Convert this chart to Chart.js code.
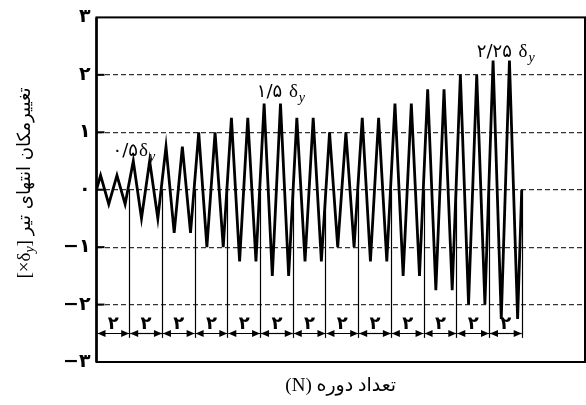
<!DOCTYPE html>
<html>
<head>
<meta charset="utf-8">
<script src="https://cdn.jsdelivr.net/npm/chart.js@4.4.1/dist/chart.umd.min.js"></script>
<style>
html,body{margin:0;padding:0;background:#fff;}
#wrap{width:586px;height:405px;position:relative;}
</style>
</head>
<body>
<div id="wrap"><canvas id="c" width="586" height="405"></canvas></div>
<script>
// ---- data ----
const cyclePeaks   = [0.25,0.25,0.5,0.5,0.75,0.75,1,1,1.25,1.25,1.5,1.5,1.25,1.25,1,1,1.25,1.25,1.5,1.5,1.75,1.75,2,2,2.25,2.25];
const cycleTroughs = [-0.25,-0.25,-0.5,-0.5,-0.75,-0.75,-1,-1,-1.25,-1.25,-1.5,-1.5,-1.25,-1.25,-1,-1,-1.25,-1.25,-1.5,-1.5,-1.75,-1.75,-2,-2,-2.25,-2.25];
const groupCycleCounts = [2,2,2,2,2,2,2,2,2,2,2,2,2];
const groupCountLabels = ['۲','۲','۲','۲','۲','۲','۲','۲','۲','۲','۲','۲','۲'];
const yTickValues = [-3,-2,-1,0,1,2,3];
const yTickLabels = ['−۳','−۲','−۱','۰','۱','۲','۳'];
const amplitudeNotes = ['۰/۵','۱/۵ ','۲/۲۵ '];
const xTitle = '(N) تعداد دوره';
const yTitleMain = 'تغییرمکان انتهای تیر';

// build the line points (one peak and one trough per cycle)
const wavePoints = [{x:0,y:0}];
cyclePeaks.forEach((p,i)=>{
  wavePoints.push({x:i+0.25,y:p});
  wavePoints.push({x:i+0.75,y:cycleTroughs[i]});
});
wavePoints.push({x:cyclePeaks.length,y:0});

const FONT = "'Liberation Serif','DejaVu Sans',serif";
const PFONT = "'DejaVu Sans','Liberation Serif',sans-serif";

function drawDeltaNote(ctx, numText, px, py, size){
  ctx.textAlign='left'; ctx.textBaseline='alphabetic'; ctx.fillStyle='#000';
  ctx.font = size+'px '+PFONT;
  ctx.fillText(numText, px, py);
  let w = ctx.measureText(numText).width;
  ctx.font = (size+1)+"px 'Liberation Serif'";
  ctx.fillText('δ', px+w+1, py);
  w += ctx.measureText('δ').width + 1;
  ctx.font = "italic "+Math.round(size*0.75)+"px 'Liberation Serif'";
  ctx.fillText('y', px+w+1, py+5);
}

const overlay = {
  id:'overlay',
  afterDatasetsDraw(chart){
    const {ctx, chartArea:a, scales:{x,y}} = chart;
    ctx.save();
    ctx.strokeStyle='#000'; ctx.fillStyle='#000';
    // frame
    ctx.lineWidth=2;
    ctx.strokeRect(a.left, a.top, a.right-a.left, a.bottom-a.top);
    ctx.lineWidth=2.5;
    ctx.beginPath(); ctx.moveTo(a.left,a.top); ctx.lineTo(a.left,a.bottom); ctx.stroke();
    // inward ticks
    ctx.lineWidth=2;
    yTickValues.forEach(v=>{
      if (Math.abs(v)===3) return;
      const py=y.getPixelForValue(v);
      ctx.beginPath(); ctx.moveTo(a.left,py); ctx.lineTo(a.left+8,py); ctx.stroke();
    });
    // group boundaries and arrows
    const bounds=[0];
    groupCycleCounts.forEach(n=>bounds.push(bounds[bounds.length-1]+n));
    const y0=y.getPixelForValue(0);
    const yArrow=Math.round(y.getPixelForValue(-2.5))+0.5;
    const yEnd=y.getPixelForValue(-2.58);
    ctx.lineWidth=1.2;
    bounds.forEach((b,i)=>{
      if(i===0) return;
      const px=Math.round(x.getPixelForValue(b))+0.5;
      ctx.beginPath(); ctx.moveTo(px,y0); ctx.lineTo(px,yEnd); ctx.stroke();
    });
    ctx.font = "bold 18px "+PFONT; ctx.textAlign='center'; ctx.textBaseline='alphabetic';
    for(let i=0;i<groupCycleCounts.length;i++){
      const x1=x.getPixelForValue(bounds[i])+1, x2=x.getPixelForValue(bounds[i+1]);
      ctx.lineWidth=1.2;
      ctx.beginPath(); ctx.moveTo(x1,yArrow); ctx.lineTo(x2,yArrow); ctx.stroke();
      ctx.beginPath(); ctx.moveTo(x1,yArrow); ctx.lineTo(x1+8,yArrow-3.5); ctx.lineTo(x1+8,yArrow+3.5); ctx.closePath(); ctx.fill();
      ctx.beginPath(); ctx.moveTo(x2,yArrow); ctx.lineTo(x2-8,yArrow-3.5); ctx.lineTo(x2-8,yArrow+3.5); ctx.closePath(); ctx.fill();
      ctx.fillText(groupCountLabels[i], (x1+x2)/2, y.getPixelForValue(-2.43));
    }
    // amplitude notes
    drawDeltaNote(ctx, amplitudeNotes[0], x.getPixelForValue(0.98), y.getPixelForValue(0.59), 18);
    drawDeltaNote(ctx, amplitudeNotes[1], x.getPixelForValue(9.8), y.getPixelForValue(1.62), 18);
    drawDeltaNote(ctx, amplitudeNotes[2], x.getPixelForValue(23.25), y.getPixelForValue(2.31), 18);
    ctx.restore();

    // y axis title (rotated)
    ctx.save();
    ctx.translate(25, 183);
    ctx.rotate(-Math.PI/2);
    ctx.fillStyle='#000'; ctx.textBaseline='middle'; ctx.textAlign='left';
    const parts=[
      {t:'[×δ', f:"19px 'Liberation Serif'", dy:0},
      {t:'y', f:"italic 14px 'Liberation Serif'", dy:5},
      {t:'] ', f:"19px 'Liberation Serif'", dy:0},
      {t:yTitleMain, f:"18px "+PFONT, dy:0}
    ];
    let total=0;
    parts.forEach(p=>{ctx.font=p.f; p.w=ctx.measureText(p.t).width; total+=p.w;});
    let cx=-total/2;
    parts.forEach(p=>{ctx.font=p.f; ctx.fillText(p.t,cx,p.dy); cx+=p.w;});
    ctx.restore();
  }
};

new Chart(document.getElementById('c'), {
  type:'line',
  data:{ datasets:[{
    data: wavePoints,
    borderColor:'#000',
    borderWidth:2.8,
    pointRadius:0,
    tension:0,
    fill:false
  }]},
  options:{
    responsive:false,
    animation:false,
    events:[],
    layout:{padding:{top:17,right:1,left:0,bottom:0}},
    plugins:{legend:{display:false},tooltip:{enabled:false}},
    scales:{
      x:{
        type:'linear', min:0, max:29.87,
        grid:{display:false}, border:{display:false},
        ticks:{display:false},
        title:{display:true, text:xTitle, color:'#000', font:{family:FONT, size:19}, padding:{top:0,bottom:8}},
        afterFit(s){ s.height = 43; }
      },
      y:{
        type:'linear', min:-3, max:3,
        afterBuildTicks(s){ s.ticks = yTickValues.map(v=>({value:v})); },
        ticks:{
          color:'#000', padding:6,
          font:{family:PFONT, size:19, weight:'bold'},
          callback:(v)=>yTickLabels[yTickValues.indexOf(v)]
        },
        grid:{
          drawTicks:false,
          color:(c)=> (c.tick && Math.abs(c.tick.value)===3) ? 'rgba(0,0,0,0)' : '#333',
          lineWidth:1.2
        },
        border:{display:false, dash:[5,3]},
        afterFit(s){ s.width = 96.5; }
      }
    }
  },
  plugins:[overlay]
});
</script>
</body>
</html>
